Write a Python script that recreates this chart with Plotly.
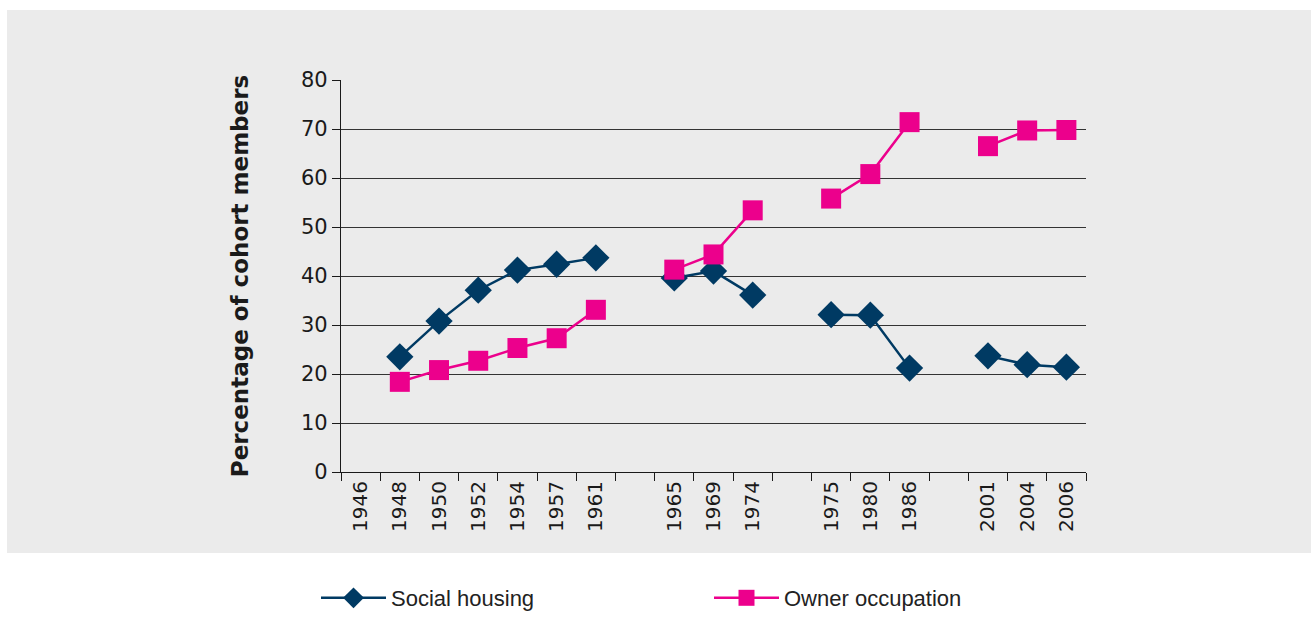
import plotly.graph_objects as go

categories = ["1946", "1948", "1950", "1952", "1954", "1957", "1961", " ",
              "1965", "1969", "1974", "  ",
              "1975", "1980", "1986", "   ",
              "2001", "2004", "2006"]

social_housing = [None, 23.5, 30.8, 37.1, 41.2, 42.4, 43.7, None,
                  39.6, 41.0, 36.1, None,
                  32.1, 32.0, 21.2, None,
                  23.7, 21.9, 21.4]

owner_occupation = [None, 18.4, 20.8, 22.7, 25.3, 27.3, 33.1, None,
                    41.3, 44.4, 53.4, None,
                    55.8, 60.8, 71.4, None,
                    66.5, 69.7, 69.8]

NAVY = "#003a63"
MAGENTA = "#ec008c"
BG = "#ebebeb"

fig = go.Figure()
fig.add_trace(go.Scatter(
    x=categories, y=social_housing, name="Social housing",
    mode="lines+markers", connectgaps=False,
    line=dict(color=NAVY, width=2.5),
    marker=dict(symbol="diamond", size=21, color=NAVY),
))
fig.add_trace(go.Scatter(
    x=categories, y=owner_occupation, name="Owner occupation",
    mode="lines+markers", connectgaps=False,
    line=dict(color=MAGENTA, width=2.5),
    marker=dict(symbol="square", size=20, color=MAGENTA),
))

L, R, T, B = 341, 1311 - 1086, 80, 617 - 472
W, H = 1086 - 341, 472 - 80

def px2x(px):
    return (px - L) / W

def py2y(py):
    return (472 - py) / H

fig.add_shape(type="rect", xref="paper", yref="paper",
              x0=px2x(7), x1=px2x(1320), y0=py2y(553), y1=py2y(10),
              fillcolor=BG, line=dict(width=0), layer="below")

fig.update_layout(
    width=1311, height=617,
    margin=dict(l=L, r=R, t=T, b=B, autoexpand=False),
    paper_bgcolor="white",
    plot_bgcolor=BG,
    font=dict(family="DejaVu Sans", color="#1a1a1a"),
    showlegend=True,
    legend=dict(
        orientation="h", x=px2x(316), xanchor="left",
        y=py2y(598), yanchor="middle",
        font=dict(family="Liberation Sans", size=22, color="#222222"),
        bgcolor="rgba(0,0,0,0)",
        entrywidth=313, itemwidth=65,
    ),
    xaxis=dict(
        type="category", categoryorder="array", categoryarray=categories,
        range=[-0.5, len(categories) - 0.5],
        tickson="boundaries", ticks="outside", ticklen=8,
        tickcolor="#1a1a1a", tickwidth=1.2,
        tickangle=-90, tickfont=dict(family="DejaVu Sans", size=20, color="#1a1a1a"),
        showline=True, linecolor="#1a1a1a", linewidth=1.2,
        showgrid=False, zeroline=False, automargin=False,
    ),
    yaxis=dict(
        range=[0, 80], dtick=10, tick0=0,
        ticks="outside", ticklen=8, tickcolor="#1a1a1a", tickwidth=1.2,
        tickfont=dict(family="DejaVu Sans", size=21, color="#1a1a1a"),
        showline=True, linecolor="#1a1a1a", linewidth=1.2,
        showgrid=True, gridcolor="#333333", gridwidth=1.2,
        zeroline=False, automargin=False,
        title=dict(text="<b>Percentage of cohort members</b>",
                   font=dict(family="DejaVu Sans", size=23, color="#1a1a1a"),
                   standoff=45),
    ),
)

fig.write_html("out.html", config={"displayModeBar": False},
               post_script="document.body.style.margin='0';")
